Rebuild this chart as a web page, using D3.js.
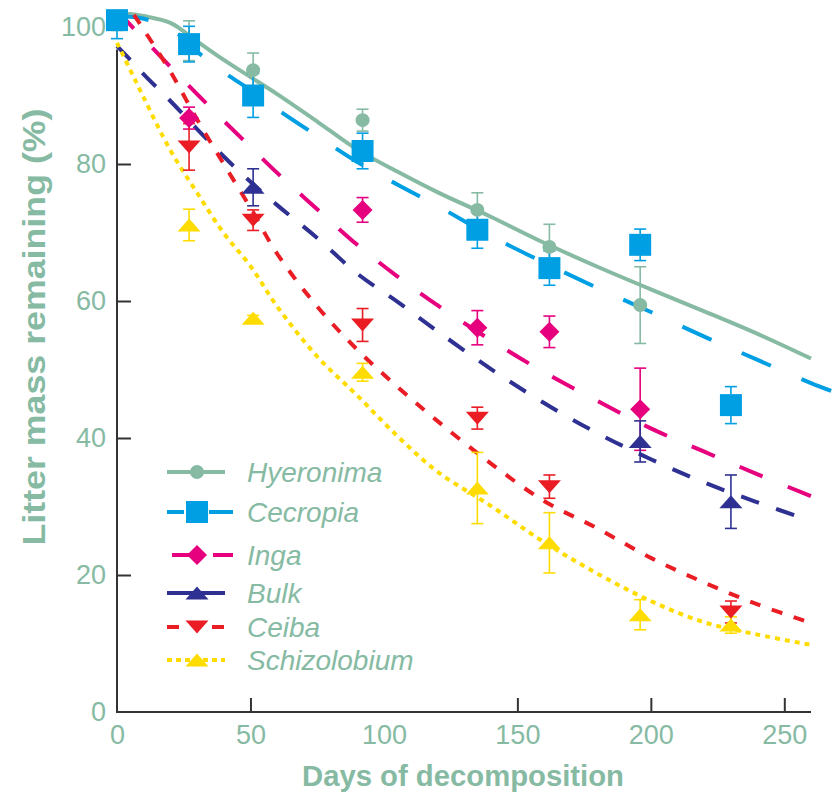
<!DOCTYPE html>
<html>
<head>
<meta charset="utf-8">
<script src="https://cdnjs.cloudflare.com/ajax/libs/d3/7.8.5/d3.min.js"></script>
<style>
	body { margin: 0; background: #fff; }
	svg { display: block; font-family: "Liberation Sans", Arial, sans-serif; }
</style>
</head>
<body>
<div id="chart"></div>
<script>
(function() {
	// sampling days and measured mass remaining (%)
	var days = [0, 27, 51, 92, 135, 162, 196, 230];

	var hyeronima       = [100.5, 98, 93.7, 86.4, 73.3, 67.9, 59.4, null];
	var hyeronimaErr    = [1, 2.9, 2.5, 1.6, 2.5, 3.3, 5.6, null];
	var cecropia        = [101, 97.5, 90, 81.9, 70.4, 64.8, 68.2, 44.8];
	var cecropiaErr     = [2.7, 2.6, 3.2, 2.6, 2.7, 2.5, 2.3, 2.7];
	var inga            = [null, 86.7, null, 73.3, 56.1, 55.5, 44.2, null];
	var ingaErr         = [null, 1.6, null, 1.8, 2.5, 2.3, 6, null];
	var bulk            = [null, null, 76.6, null, null, null, 39.5, 30.7];
	var bulkErr         = [null, null, 2.7, null, null, null, 3, 3.9];
	var ceiba           = [null, 82.5, 71.8, 56.5, 42.9, 32.9, null, 14.6];
	var ceibaErr        = [null, 3.4, 1.5, 2.4, 1.6, 1.7, null, 1.6];
	var schizolobium    = [null, 71.1, 57.5, 49.6, 32.7, 24.7, 14.2, 12.7];
	var schizolobiumErr = [null, 2.3, 0.4, 1.3, 5.2, 4.4, 2.2, 1.2];

	// fitted decay curves
	var fitDays = [0, 5, 10, 20, 30, 40, 50, 60, 75, 90, 105, 120, 140, 160, 180, 200, 220, 240, 260, 268];
	var hyeronimaFit    = [101.9, 101.9, 101.6, 100.6, 97.9, 95.2, 92.7, 90.2, 86.2, 82.1, 78.9, 75.9, 72.3, 68.5, 65, 61.7, 58.5, 55.2, 51.6, null];
	var cecropiaFit     = [101.5, 101.5, 101.2, 99.8, 96.4, 93.4, 90.8, 88, 84.1, 80.3, 77, 73.9, 69.5, 65.6, 61.9, 58.4, 54.8, 51.4, 48, 46.8];
	var ingaFit         = [102.5, 100.3, 98.3, 94.2, 90.2, 86.3, 82.5, 78.7, 73.4, 68.2, 63.6, 59.4, 54.3, 49.6, 45.4, 41.4, 38, 34.7, 31.5, null];
	var bulkFit         = [97.2, 95.2, 93.1, 89.2, 85.1, 81.1, 77.4, 74, 69.2, 64, 59.9, 55.6, 50.1, 45.1, 40.7, 36.9, 33.5, 30.6, 27.9, null];
	var ceibaFit        = [104, 102.4, 99.6, 93.5, 86.5, 80, 73.6, 66.9, 59.2, 52.9, 47.5, 42.5, 36.3, 30.8, 26.8, 22.5, 18.9, 15.7, 13, null];
	var schizolobiumFit = [97.7, 93.7, 89.7, 82, 75.8, 69.9, 65.1, 59.2, 51.9, 46.2, 40.3, 35.1, 30.1, 24.8, 20.2, 16.2, 13.1, 11.3, 9.8, null];

	var xTicks = [0, 50, 100, 150, 200, 250];
	var yTicks = [0, 20, 40, 60, 80, 100];

	var teal = "#86baa3";

	var series = [
		{name: "Hyeronima", values: hyeronima, err: hyeronimaErr, fit: hyeronimaFit, color: teal, dash: null, legendDash: null, shape: "circle"},
		{name: "Cecropia", values: cecropia, err: cecropiaErr, fit: cecropiaFit, color: "#009fe3", dash: "32,33", legendDash: "17,25,24", shape: "square"},
		{name: "Inga", values: inga, err: ingaErr, fit: ingaFit, color: "#e6007e", dash: "25,27", legendDash: "18,23,20", shape: "diamond"},
		{name: "Bulk", values: bulk, err: bulkErr, fit: bulkFit, color: "#2e3192", dash: "19,18", legendDash: null, shape: "triUp"},
		{name: "Ceiba", values: ceiba, err: ceibaErr, fit: ceibaFit, color: "#ea1d25", dash: "11,12", legendDash: "12,33,12", shape: "triDown"},
		{name: "Schizolobium", values: schizolobium, err: schizolobiumErr, fit: schizolobiumFit, color: "#ffdc00", dash: "5,5", legendDash: "5,4", shape: "triUp"}
	];

	var shapes = {
		circle: d3.symbol(d3.symbolCircle, Math.PI * 49)(),
		square: "M-11,-11H11V11H-11Z",
		diamond: "M0,-10L10,0L0,10L-10,0Z",
		triUp: "M-11.5,6.5L0,-6.5L11.5,6.5Z",
		triDown: "M-11.5,-6.5L11.5,-6.5L0,6.5Z"
	};

	var width = 833;
	var height = 792;

	var x = d3.scaleLinear().domain([0, 260]).range([117, 811]);
	var y = d3.scaleLinear().domain([0, 100]).range([712, 27]);

	var svg = d3.select("#chart")
				.append("svg")
				.attr("width", width)
				.attr("height", height);

	svg.append("defs").append("clipPath")
		.attr("id", "plotclip")
		.append("rect")
		.attr("x", 100)
		.attr("y", y(102.2))
		.attr("width", width - 100)
		.attr("height", y(0) - y(102.2) + 10);

	// axes
	var xAxis = d3.axisBottom(x).tickValues(xTicks).tickSize(-14).tickPadding(13).tickFormat(d3.format("d"));
	var yAxis = d3.axisLeft(y).tickValues(yTicks).tickSize(-14).tickPadding(11).tickFormat(d3.format("d"));

	var gx = svg.append("g").attr("transform", "translate(0," + y(0) + ")").call(xAxis);
	var gy = svg.append("g").attr("transform", "translate(" + x(0) + ",0)").call(yAxis);

	[gx, gy].forEach(function(g){
		g.select(".domain").remove();
		g.selectAll(".tick line")
			.attr("stroke", "#333")
			.attr("stroke-width", 2)
			.attr("opacity", function(d){ return (d === 0 || d === 100) ? 0 : 1; });
		g.selectAll(".tick text")
			.attr("fill", teal)
			.attr("font-size", 27);
	});

	svg.append("line")
		.attr("x1", x(0)).attr("x2", x(260))
		.attr("y1", y(0)).attr("y2", y(0))
		.attr("stroke", "#333").attr("stroke-width", 2);
	svg.append("line")
		.attr("x1", x(0)).attr("x2", x(0))
		.attr("y1", y(0) + 1).attr("y2", y(96.7))
		.attr("stroke", "#333").attr("stroke-width", 2);

	svg.append("text")
		.attr("x", 463)
		.attr("y", 786)
		.attr("text-anchor", "middle")
		.attr("font-size", 30)
		.attr("font-weight", "bold")
		.attr("fill", teal)
		.attr("textLength", 322)
		.attr("lengthAdjust", "spacingAndGlyphs")
		.text("Days of decomposition");

	svg.append("text")
		.attr("transform", "translate(45,327) rotate(-90)")
		.attr("text-anchor", "middle")
		.attr("font-size", 31)
		.attr("font-weight", "bold")
		.attr("fill", teal)
		.attr("textLength", 437)
		.attr("lengthAdjust", "spacingAndGlyphs")
		.text("Litter mass remaining (%)");

	// fitted curves
	var plot = svg.append("g").attr("clip-path", "url(#plotclip)");

	var line = d3.line()
				.defined(function(d){ return d[1] !== null; })
				.x(function(d){ return x(d[0]); })
				.y(function(d){ return y(d[1]); })
				.curve(d3.curveCatmullRom.alpha(0.5));

	series.forEach(function(s){
		plot.append("path")
			.datum(fitDays.map(function(d, i){ return [d, s.fit[i]]; }))
			.attr("d", line)
			.attr("fill", "none")
			.attr("stroke", s.color)
			.attr("stroke-width", 4)
			.attr("stroke-dasharray", s.dash);
	});

	// error bars
	series.forEach(function(s){
		var pts = days.map(function(d, i){ return {day: d, v: s.values[i], e: s.err[i]}; })
					.filter(function(p){ return p.v !== null; });

		var eb = plot.append("g")
					.attr("stroke", s.color)
					.attr("stroke-width", 1.6)
					.selectAll("g")
					.data(pts)
					.enter()
					.append("g");

		eb.append("line")
			.attr("x1", function(p){ return x(p.day); })
			.attr("x2", function(p){ return x(p.day); })
			.attr("y1", function(p){ return y(p.v - p.e); })
			.attr("y2", function(p){ return y(p.v + p.e); });
		eb.append("line")
			.attr("x1", function(p){ return x(p.day) - 6; })
			.attr("x2", function(p){ return x(p.day) + 6; })
			.attr("y1", function(p){ return y(p.v - p.e); })
			.attr("y2", function(p){ return y(p.v - p.e); });
		eb.append("line")
			.attr("x1", function(p){ return x(p.day) - 6; })
			.attr("x2", function(p){ return x(p.day) + 6; })
			.attr("y1", function(p){ return y(p.v + p.e); })
			.attr("y2", function(p){ return y(p.v + p.e); });
	});

	// markers
	series.forEach(function(s){
		var pts = days.map(function(d, i){ return {day: d, v: s.values[i]}; })
					.filter(function(p){ return p.v !== null; });

		svg.append("g")
			.selectAll("path")
			.data(pts)
			.enter()
			.append("path")
			.attr("d", shapes[s.shape])
			.attr("transform", function(p){
				return "translate(" + x(p.day) + "," + y(p.v) + ")";
			})
			.attr("fill", s.color);
	});

	// legend
	var legendRows = [472, 512, 555, 593, 627, 660];

	var legend = svg.selectAll(".legend")
					.data(series)
					.enter()
					.append("g")
					.attr("class", "legend")
					.attr("transform", function(d, i){
						return "translate(0," + legendRows[i] + ")";
					});

	legend.append("line")
		.attr("x1", function(d){ return d.shape === "diamond" ? 172 : 167; })
		.attr("x2", function(d){ return d.shape === "square" || d.shape === "diamond" ? 233 : 225; })
		.attr("y1", 0)
		.attr("y2", 0)
		.attr("stroke", function(d){ return d.color; })
		.attr("stroke-width", 4)
		.attr("stroke-dasharray", function(d){ return d.legendDash; });

	legend.append("path")
		.attr("d", function(d){ return shapes[d.shape]; })
		.attr("transform", "translate(197,0)")
		.attr("fill", function(d){ return d.color; });

	legend.append("text")
		.attr("x", 247)
		.attr("y", 10)
		.attr("font-size", 28)
		.attr("font-style", "italic")
		.attr("fill", teal)
		.text(function(d){ return d.name; });

})();
</script>
</body>
</html>
